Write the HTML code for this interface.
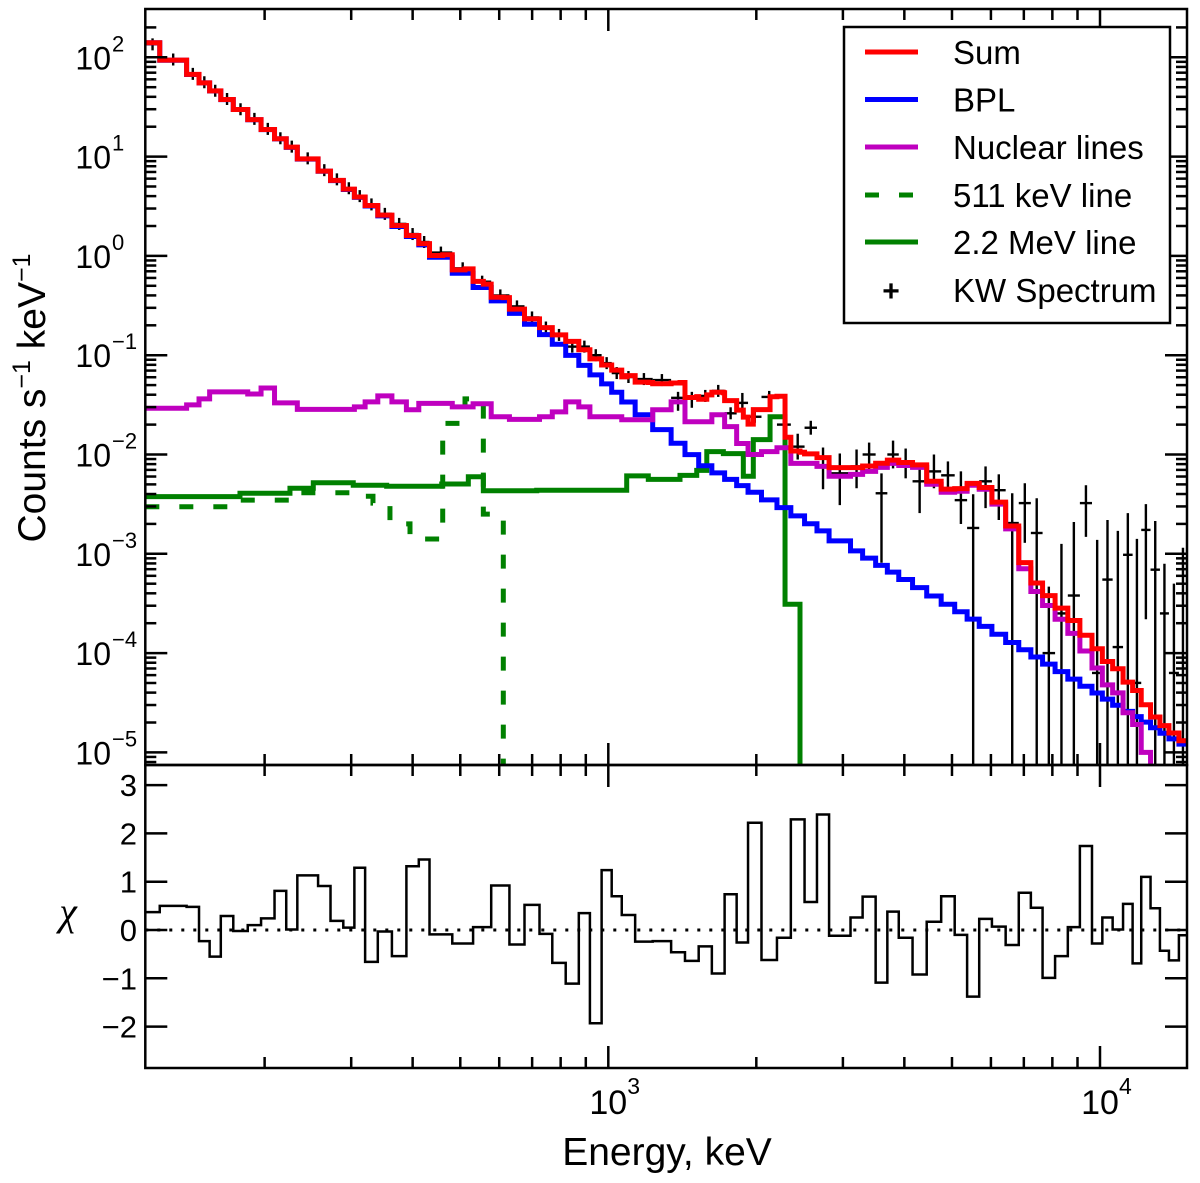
<!DOCTYPE html>
<html><head><meta charset="utf-8"><style>
html,body{margin:0;padding:0;background:#fff;}
svg{display:block;font-family:"Liberation Sans",sans-serif;}
</style></head><body>
<svg id="chart" width="1200" height="1183" viewBox="0 0 1200 1183" xmlns="http://www.w3.org/2000/svg">
<defs>
<clipPath id="mainClip"><rect x="145.3" y="9" width="1041.7" height="756"/></clipPath>
<clipPath id="resClip"><rect x="145.3" y="765" width="1041.7" height="304"/></clipPath>
</defs>
<g id="layer-data" clip-path="url(#mainClip)"></g>
<g id="layer-models" clip-path="url(#mainClip)"></g>
<g id="layer-res" clip-path="url(#resClip)"></g>
<g id="layer-axes"></g>
<g id="legend">
  <rect x="844" y="27" width="326" height="296" fill="#fff" stroke="#000" stroke-width="2.5"/>
  <line x1="865" y1="52" x2="918" y2="52" stroke="#ff0000" stroke-width="5"/>
  <text x="953" y="64" font-size="33">Sum</text>
  <line x1="865" y1="99.5" x2="918" y2="99.5" stroke="#0000ff" stroke-width="5"/>
  <text x="953" y="111.5" font-size="33">BPL</text>
  <line x1="865" y1="147" x2="918" y2="147" stroke="#bf00bf" stroke-width="5"/>
  <text x="953" y="159" font-size="33">Nuclear lines</text>
  <line x1="865" y1="195" x2="918" y2="195" stroke="#008000" stroke-width="5" stroke-dasharray="14,20"/>
  <text x="953" y="207" font-size="33">511 keV line</text>
  <line x1="865" y1="242" x2="918" y2="242" stroke="#008000" stroke-width="5"/>
  <text x="953" y="254" font-size="33">2.2 MeV line</text>
  <text x="891" y="301" font-size="30" font-weight="bold" text-anchor="middle">+</text>
  <text x="953" y="302" font-size="33">KW Spectrum</text>
</g>
<text x="667" y="1165" font-size="39" text-anchor="middle">Energy, keV</text>
<text transform="translate(45,398) rotate(-90)" font-size="39" text-anchor="middle">Counts s<tspan dy="-15" font-size="25">−1</tspan><tspan dy="15"> keV</tspan><tspan dy="-15" font-size="25">−1</tspan></text>
<text x="68" y="925" font-size="40" font-style="italic" font-family="Liberation Serif, serif" text-anchor="middle">χ</text>
</svg>
<script>
// common channel grid (bin edges, keV)
const binEdges = [114.4,122.4,138.8,147.1,154.6,162.9,172.7,184.8,196.7,209.5,221.3,233.1,256.9,272.3,289.1,304.5,320.2,339.8,363.0,388.5,411.7,432.9,481.6,530.9,577.9,629.4,675.4,724.6,769.3,819.2,871.0,917.5,969.2,1016,1065,1134,1231,1342,1432,1527,1624,1724,1824,1924,2049,2203,2351,2507,2657,2812,3109,3290,3497,3694,3897,4157,4442,4753,5064,5367,5680,6028,6429,6836,7234,7642,8103,8601,9101,9632,10110,10610,11140,11650,12130,12670,13240,13810,14470,15030];
const bplValues = [140,93.5,67.2,55.2,45.8,37.5,29.8,23.5,18.7,15.1,12.4,9.44,7.11,5.73,4.67,3.88,3.18,2.53,1.98,1.57,1.29,0.97,0.668,0.48,0.352,0.264,0.205,0.161,0.129,0.0995,0.0789,0.0634,0.0514,0.0424,0.0338,0.0251,0.0178,0.0130,0.00998,0.00771,0.00653,0.00561,0.00486,0.00417,0.00349,0.00292,0.00241,0.00201,0.00170,0.00135,0.00107,0.000904,0.000764,0.000653,0.000551,0.000456,0.000376,0.000310,0.000261,0.000220,0.000186,0.000155,0.000128,0.000108,0.0000914,0.0000774,0.0000650,0.0000547,0.0000463,0.0000397,0.0000344,0.0000298,0.0000259,0.0000229,0.0000202,0.0000177,0.0000156,0.0000137,0.0000121];
const nuclearValues = [0.0292,0.0292,0.0316,0.0363,0.0427,0.0427,0.0427,0.0407,0.0468,0.0331,0.0331,0.0285,0.0285,0.0285,0.0285,0.0302,0.0339,0.0389,0.0339,0.0282,0.0327,0.0327,0.0302,0.0324,0.0240,0.0226,0.0226,0.0240,0.0269,0.0339,0.0302,0.0240,0.0240,0.0240,0.0224,0.0224,0.0282,0.0339,0.0214,0.0214,0.0251,0.0191,0.0129,0.0100,0.0107,0.0117,0.00813,0.00813,0.00759,0.00603,0.00631,0.00676,0.00741,0.00813,0.00776,0.00741,0.00501,0.00417,0.00427,0.00490,0.00447,0.00316,0.00178,0.000708,0.000417,0.000302,0.000219,0.000158,0.000105,0.0000708,0.0000479,0.0000398,0.0000251,0.0000191,0.00001,0.000005,0.000003,0.000002,0.000001];
const line511Edges = [114.4,178.2,228.4,302.5,332.2,359.7,395.1,460.5,511.2,557,611.6,15030];
const line511Values = [0.00298,0.00347,0.00412,0.0038,0.00324,0.0020,0.00141,0.0206,0.0363,0.00251,1e-9];
const line22Edges = [114.4,178.2,225.2,251.2,302.9,354.2,458.4,519.2,557,715.2,1090,1206,1399,1513,1586,1714,1882,1972,2133,2288,2454,15030];
const line22Values = [0.00376,0.00407,0.00457,0.0052,0.0049,0.00479,0.00505,0.00597,0.00432,0.00437,0.0061,0.00562,0.00617,0.00692,0.0107,0.0102,0.00603,0.0141,0.024,0.00031,1e-9];
const dataValues = [135,95,68,56,46,38,30,24,19,15.3,12.6,9.6,7.3,5.9,4.8,4.0,3.3,2.65,2.1,1.66,1.38,1.08,0.75,0.55,0.40,0.31,0.24,0.19,0.16,0.122,0.122,0.100,0.0832,0.0661,0.0603,0.0575,0.0562,0.0372,0.0372,0.0389,0.0437,0.026,0.0331,0.024,0.038,0.020,0.012,0.0186,0.00759,0.00646,0.00759,0.010,0.00407,0.010,0.00813,0.00537,0.00676,0.00617,0.00347,0.00182,0.00537,0.00437,0.00204,0.00324,0.00162,0.0001,0.000251,0.00038,0.00324,0.0000631,0.00055,0.000115,0.000977,0.0000501,0.00174,0.000692,0.000251,0.0000631,0.001];
const dataErrUpDex = [0.03,0.03,0.03,0.03,0.03,0.03,0.03,0.03,0.03,0.03,0.03,0.03,0.03,0.03,0.03,0.03,0.03,0.03,0.03,0.03,0.03,0.03,0.03,0.03,0.03,0.03,0.03,0.03,0.03,0.04,0.04,0.04,0.04,0.04,0.04,0.04,0.04,0.05,0.06,0.05,0.04,0.06,0.1,0.05,0.05,0.07,0.13,0.07,0.19,0.2,0.17,0.12,0.2,0.14,0.15,0.15,0.17,0.14,0.29,0.34,0.15,0.16,0.3,0.2,0.35,0.67,0.7,0.74,0.18,1.34,0.6,1.17,0.42,1.45,0.26,0.49,0.5,0.9,0.05];
const dataErrDnDex = [0.03,0.03,0.03,0.03,0.03,0.03,0.03,0.03,0.03,0.03,0.03,0.03,0.03,0.03,0.03,0.03,0.03,0.03,0.03,0.03,0.03,0.03,0.03,0.03,0.03,0.03,0.03,0.03,0.03,0.04,0.04,0.04,0.04,0.04,0.04,0.04,0.04,0.13,0.1,0.05,0.04,0.06,0.1,0.05,0.05,0.07,0.13,0.07,0.23,0.32,0.22,0.16,0.7,0.14,0.15,0.32,0.17,0.14,0.24,9,0.27,0.3,9,0.4,9,9,9,9,0.34,9,9,9,9,9,0.9,9,9,9,9];
const chiValues = [0.37,0.50,0.48,-0.23,-0.55,0.29,-0.02,0.10,0.24,0.81,0.01,1.13,0.91,0.19,0.05,1.29,-0.66,-0.03,-0.54,1.32,1.46,-0.09,-0.28,0.06,0.92,-0.30,0.52,-0.08,-0.68,-1.11,0.35,-1.93,1.24,0.70,0.31,-0.24,-0.23,-0.46,-0.64,-0.34,-0.90,0.74,-0.26,2.22,-0.62,-0.16,2.29,0.58,2.39,-0.12,0.26,0.69,-1.09,0.38,-0.16,-0.92,0.17,0.70,-0.10,-1.38,0.23,0.07,-0.31,0.77,0.46,-0.99,-0.54,0.06,1.74,-0.28,0.26,0.01,0.54,-0.69,1.10,0.45,-0.43,-0.63,-0.11];
const xTickLabels = ["10","10"];
const xTickExps = ["3","4"];
const yTickExps = ["2","1","0","-1","-2","-3","-4","-5"];
const chiTickLabels = ["3","2","1","0","-1","-2"];

const NS="http://www.w3.org/2000/svg";
const X0=145.3,X1=1187,YT=9,YM=765,YB=1068;
function xs(E){return 608.3+491.7*(Math.log10(E)-3);}
function ys(v){return 57.3+99.3*(2-Math.log10(Math.max(v,1e-12)));}
function yr(c){return 930-48.3*c;}
function el(tag,attrs,parent){const e=document.createElementNS(NS,tag);for(const k in attrs)e.setAttribute(k,attrs[k]);parent.appendChild(e);return e;}
function stepPath(edges,vals){let d="";for(let i=0;i<vals.length;i++){const y=ys(vals[i]).toFixed(2);const xa=xs(edges[i]).toFixed(2),xb=xs(edges[i+1]).toFixed(2);d+=(i===0?"M":"L")+xa+","+y+"L"+xb+","+y;}return d;}
function stepVal(edges,vals,E){for(let i=0;i<vals.length;i++){if(E>=edges[i]&&E<edges[i+1])return vals[i];}return 0;}

const gData=document.getElementById('layer-data');
for(let i=0;i<dataValues.length;i++){
  const xa=xs(binEdges[i]),xb=xs(binEdges[i+1]),xc=(xa+xb)/2,yc=ys(dataValues[i]);
  const yUp=ys(dataValues[i]*Math.pow(10,dataErrUpDex[i]));
  const yDn=dataErrDnDex[i]>=9?800:ys(dataValues[i]/Math.pow(10,dataErrDnDex[i]));
  const h=el('line',{x1:xa,y1:yc,x2:xb,y2:yc,stroke:'#000','stroke-width':2.4},gData);
  
  
  const v=el('line',{x1:xc,y1:Math.min(yUp,yc-6),x2:xc,y2:Math.max(yDn,yc+6),stroke:'#000','stroke-width':2.4},gData);
  
  
}

const gM=document.getElementById('layer-models');
const p511=el('path',{d:stepPath(line511Edges,line511Values),fill:'none',stroke:'#008000','stroke-width':5,'stroke-dasharray':'14,20'},gM);


const p22=el('path',{d:stepPath(line22Edges,line22Values),fill:'none',stroke:'#008000','stroke-width':5},gM);


const pB=el('path',{d:stepPath(binEdges,bplValues),fill:'none',stroke:'#0000ff','stroke-width':5},gM);


const pN=el('path',{d:stepPath(binEdges,nuclearValues),fill:'none',stroke:'#bf00bf','stroke-width':5},gM);


// sum on union of edges
const uni=[...new Set(binEdges.concat(line511Edges,line22Edges))].sort((a,b)=>a-b);
const sumVals=[];
for(let i=0;i<uni.length-1;i++){const m=Math.sqrt(uni[i]*uni[i+1]);sumVals.push(stepVal(binEdges,bplValues,m)+stepVal(binEdges,nuclearValues,m)+stepVal(line511Edges,line511Values,m)+stepVal(line22Edges,line22Values,m));}
const pS=el('path',{d:stepPath(uni,sumVals),fill:'none',stroke:'#ff0000','stroke-width':5},gM);



// residuals
const gR=document.getElementById('layer-res');
const z=el('line',{x1:X0,y1:yr(0),x2:X1,y2:yr(0),stroke:'#000','stroke-width':3,'stroke-dasharray':'3,9'},gR);


let dr="";
for(let i=0;i<chiValues.length;i++){const y=yr(chiValues[i]).toFixed(2);dr+=(i===0?"M":"L")+xs(binEdges[i]).toFixed(2)+","+y+"L"+xs(binEdges[i+1]).toFixed(2)+","+y;}
const pr=el('path',{d:dr,fill:'none',stroke:'#000','stroke-width':2.5},gR);



// axes
const gA=document.getElementById('layer-axes');
function tick(x1,y1,x2,y2,name){const t=el('line',{x1:x1,y1:y1,x2:x2,y2:y2,stroke:'#000','stroke-width':2.5},gA);}
const fr1=el('rect',{x:X0,y:YT,width:X1-X0,height:YM-YT,fill:'none',stroke:'#000','stroke-width':2.5},gA);


const fr2=el('rect',{x:X0,y:YM,width:X1-X0,height:YB-YM,fill:'none',stroke:'#000','stroke-width':2.5},gA);


// x ticks
for(let d=2;d<=4;d++){for(let m=1;m<=9;m++){const E=m*Math.pow(10,d);const x=xs(E);if(x<X0+1||x>X1-1)continue;const L=m===1?22:11;
  tick(x,YT,x,YT+L,'x-tick-top');tick(x,YM,x,YM-L,'x-tick-main-bottom');tick(x,YM,x,YM+L,'x-tick-res-top');tick(x,YB,x,YB-L,'x-tick-bottom');}}
xTickExps.forEach((ex,i)=>{const x=xs(Math.pow(10,3+i));const t=el('text',{x:x,y:1114,'font-size':34,'text-anchor':'middle'},gA);t.textContent=xTickLabels[i];
  const s=el('text',{x:x+19,y:1094,'font-size':23},gA);s.textContent=ex;});
// y ticks main
for(let e=-6;e<=2;e++){for(let m=1;m<=9;m++){const v=m*Math.pow(10,e);const y=ys(v);if(y<YT+1||y>YM-1)continue;const L=m===1?22:11;tick(X0,y,X0+L,y,'y-tick-left');tick(X1,y,X1-L,y,'y-tick-right');}}
yTickExps.forEach(ex=>{const y=ys(Math.pow(10,+ex));const t=el('text',{x:111,y:y+12,'font-size':32,'text-anchor':'end'},gA);t.textContent='10';
  const s=el('text',{x:112,y:y-6,'font-size':22},gA);s.textContent=ex.replace('-','−');});
// chi ticks
chiTickLabels.forEach(lb=>{const c=+lb;const y=yr(c);tick(X0,y,X0+22,y,'chi-tick-left');tick(X1,y,X1-22,y,'chi-tick-right');
  const t=el('text',{x:137,y:y+11,'font-size':31,'text-anchor':'end'},gA);t.textContent=lb.replace('-','−');});
</script>
</body></html>
